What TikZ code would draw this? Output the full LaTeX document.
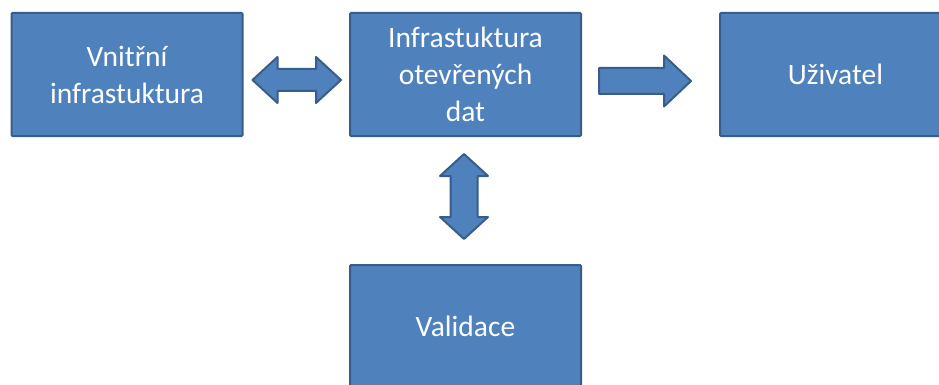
\documentclass[tikz,border=0pt]{standalone}
\usepackage{fontspec}
\setmainfont{Carlito}
\usetikzlibrary{calc}

\definecolor{boxfill}{HTML}{4F81BD}
\definecolor{boxline}{HTML}{385D8A}

\tikzset{
    box/.style={draw=boxline, fill=boxfill, line width=2pt, rounded corners=1pt,
        text=white, align=center, font=\fontsize{29.5}{37}\selectfont,
        minimum width=231pt, minimum height=123pt, inner sep=0pt},
    blockarrow/.style={draw=boxline, fill=boxfill, line width=2pt, line join=round}
}

\begin{document}
\begin{tikzpicture}[x=1pt,y=-1pt]
        \clip (0,0) rectangle (939,385);
        \fill[white] (0,0) rectangle (939,385);
        % boxes
        \node[box] (vnitrni) at (127,74.5) {Vnitřní\\infrastuktura};
        \node[box] (infra) at (465.5,74.5) {Infrastuktura\\otevřených\\dat};
        \node[box] (uzivatel) at (835.5,74.5) {Uživatel};
        \node[box] (validace) at (465.5,326.5) {Validace};
        % arrows
        \coordinate (h1) at ($(vnitrni.east)+(9,5.5)$);
        \coordinate (h2) at ($(infra.west)+(-8,5.5)$);
        \draw[blockarrow] (h1) -- ++(25,-23) -- ++(0,12) -- ($(h2)+(-25,-11)$)
            -- ++(0,-12) -- (h2) -- ++(-25,23) -- ++(0,-12) -- ($(h1)+(25,11)$)
            -- ++(0,12) -- cycle;
        \coordinate (r1) at ($(infra.east)+(17,6.5)$);
        \coordinate (r2) at ($(uzivatel.west)+(-28,6.5)$);
        \draw[blockarrow] ($(r1)+(0,-13)$) -- ($(r2)+(-27,-13)$) -- ++(0,-12.5)
            -- (r2) -- ++(-27,25.5) -- ++(0,-12.5) -- ($(r1)+(0,13)$) -- cycle;
        \coordinate (v1) at ($(infra.south)+(-1.5,17)$);
        \coordinate (v2) at ($(validace.north)+(-1.5,-25)$);
        \draw[blockarrow] (v1) -- ++(24,22) -- ++(-10.5,0) -- ($(v2)+(13.5,-22)$)
            -- ++(10.5,0) -- (v2) -- ++(-24,-22) -- ++(10.5,0) -- ($(v1)+(-13.5,22)$)
            -- ++(-10.5,0) -- cycle;
\end{tikzpicture}
\end{document}
